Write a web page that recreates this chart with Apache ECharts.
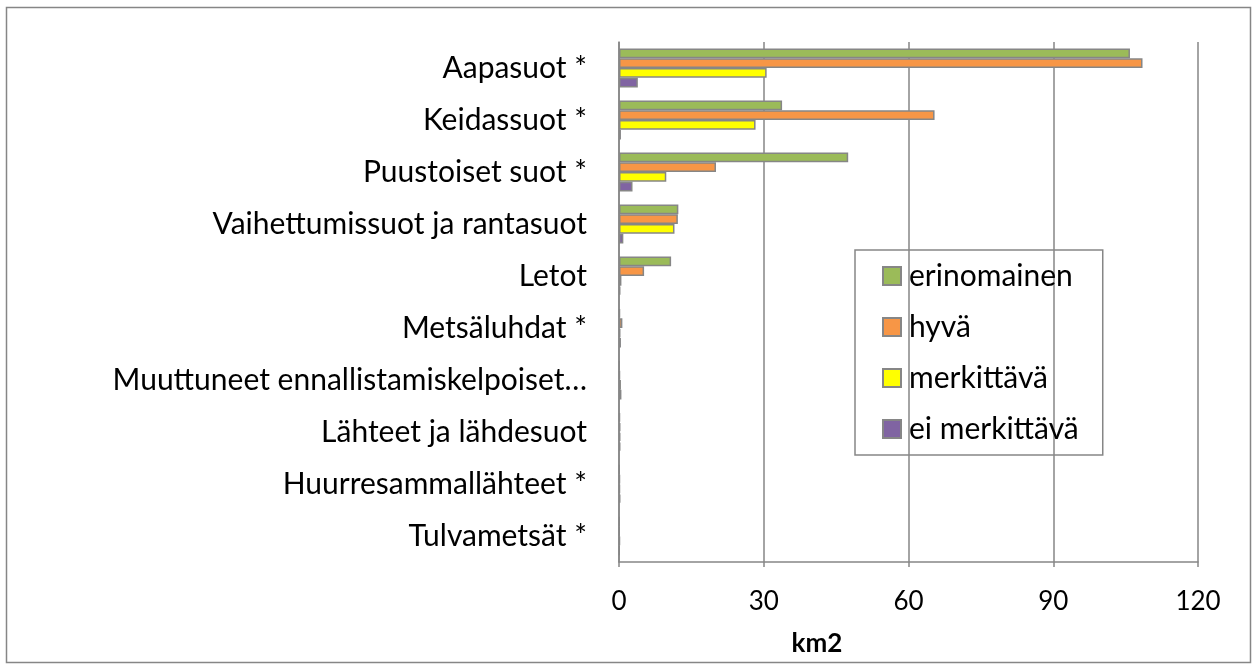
<!DOCTYPE html>
<html>
<head>
<meta charset="utf-8">
<script src="https://cdn.jsdelivr.net/npm/echarts@6/dist/echarts.min.js"></script>
<style>
  html, body { margin: 0; padding: 0; background: #fff; }
  #chart { width: 1253px; height: 666px; }
</style>
</head>
<body>
<div id="chart"></div>
<script>
const categories = [
  "Aapasuot *",
  "Keidassuot *",
  "Puustoiset suot *",
  "Vaihettumissuot ja rantasuot",
  "Letot",
  "Metsäluhdat *",
  "Muuttuneet ennallistamiskelpoiset…",
  "Lähteet ja lähdesuot",
  "Huurresammallähteet *",
  "Tulvametsät *"
]
const erinomainen = [105.9, 33.8, 47.5, 12.3, 10.8, 0.2, 0.1, 0.2, 0.1, 0.1]
const hyva = [108.5, 65.4, 20.1, 12.2, 5.2, 0.7, 0.2, 0.3, 0.2, 0.1]
const merkittava = [30.6, 28.3, 9.8, 11.5, 0.5, 0.3, 0.4, 0.3, 0.2, 0.2]
const eiMerkittava = [3.9, 0.4, 2.8, 0.9, 0.3, 0.4, 0.5, 0.3, 0.3, 0.1]
const xTicks = [0, 30, 60, 90, 120]

const gray = "#868686"
const font = "Lato, 'Noto Sans', sans-serif"

const mk = (name, data, color) => ({
  name: name,
  type: "bar",
  data: data,
  barGap: 0,
  barCategoryGap: "25%",
  itemStyle: { color: color, borderColor: gray, borderWidth: 1.5 },
  emphasis: { disabled: true }
})

const chart = echarts.init(document.getElementById("chart"))
chart.setOption({
  animation: false,
  textStyle: { fontFamily: font },
  grid: { left: 619, right: 55, top: 42, bottom: 104, containLabel: false },
  legend: {
    orient: "vertical",
    left: 855,
    top: 250,
    padding: [11, 24, 11, 27],
    icon: "rect",
    itemWidth: 18,
    itemHeight: 18,
    itemGap: 21,
    borderColor: gray,
    borderWidth: 1.5,
    textStyle: { fontSize: 30, lineHeight: 30, padding: [0, 0, 0, 3], color: "#000", fontFamily: font },
    data: ["erinomainen", "hyvä", "merkittävä", "ei merkittävä"]
  },
  xAxis: {
    type: "value",
    min: xTicks[0],
    max: xTicks[xTicks.length - 1],
    interval: 30,
    axisLine: { show: true, lineStyle: { color: gray, width: 1.5 } },
    axisTick: { show: true, length: 5, lineStyle: { color: gray, width: 1.5 } },
    axisLabel: { margin: 27, fontSize: 26, color: "#000", fontFamily: font },
    splitLine: { show: true, lineStyle: { color: gray, width: 1.5 } }
  },
  yAxis: {
    type: "category",
    inverse: true,
    data: categories,
    axisLine: { lineStyle: { color: gray, width: 1.5 } },
    axisTick: { length: 7, lineStyle: { color: gray, width: 1.5 } },
    axisLabel: { margin: 32, fontSize: 30, color: "#000", fontFamily: font }
  },
  graphic: [
    {
      type: "rect",
      shape: { x: 6.5, y: 7.5, width: 1244, height: 655 },
      style: { fill: "none", stroke: gray, lineWidth: 1.5 },
      silent: true
    },
    {
      type: "text",
      x: 817,
      y: 644,
      style: {
        text: "km2",
        fontSize: 26,
        fontWeight: "bold",
        fontFamily: font,
        fill: "#000",
        textAlign: "center",
        textVerticalAlign: "middle"
      }
    }
  ],
  series: [
    mk("erinomainen", erinomainen, "#9BBB59"),
    mk("hyvä", hyva, "#F79646"),
    mk("merkittävä", merkittava, "#FFFF00"),
    mk("ei merkittävä", eiMerkittava, "#8064A2")
  ]
})
</script>
</body>
</html>
